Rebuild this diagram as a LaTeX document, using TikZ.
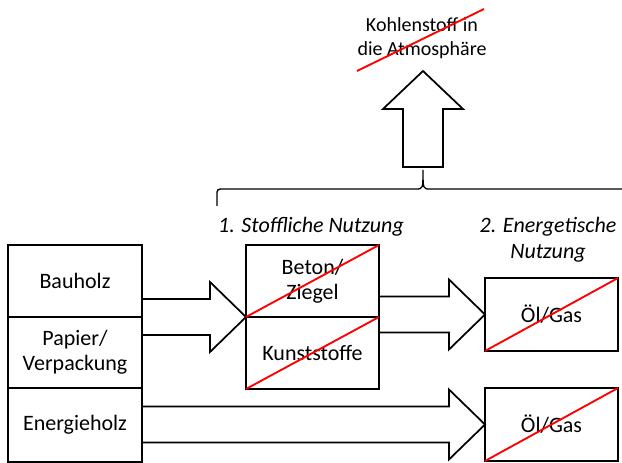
\documentclass[tikz,border=0pt]{standalone}
\usepackage{fontspec}
\setmainfont{Carlito}
\usetikzlibrary{calc,positioning}

\tikzset{
  box/.style={draw, line width=1.5pt, inner sep=0pt, outer sep=0pt, align=center,
    font=\fontsize{16.5}{18.75}\selectfont},
  arrowbody/.style={draw, line width=1.3pt, line join=miter},
  strike/.style={red, line width=1.4pt},
  headtext/.style={align=center, font=\fontsize{16.5}{19.5}\selectfont\itshape},
  bracestyle/.style={line width=1pt}
}

% horizontal block arrow: open at the start, tip at #2
\newcommand{\blockarrow}[2]{%
  \draw[arrowbody] let \p1=(#1), \p2=(#2) in
    (\x1,\y2+13.5pt) -- (\x2-27pt,\y2+13.5pt) -- (\x2-27pt,\y2+26.25pt) -- (\x2,\y2)
    -- (\x2-27pt,\y2-26.25pt) -- (\x2-27pt,\y2-13.5pt) -- (\x1,\y2-13.5pt);}

\begin{document}
\begin{tikzpicture}[x=0.75pt, y=-0.75pt]
	\useasboundingbox (0,0) rectangle (622,463);
	\clip (0,0) rectangle (622,463);
	
	%--- Holzsorten links ---
	\node[box, minimum width=100.5pt, minimum height=54pt] (bau) at (75,281) {Bauholz};
	\node[box, minimum width=100.5pt, minimum height=53.25pt, below=0pt of bau] (pap) {Papier/\\Verpackung};
	\node[box, minimum width=100.5pt, minimum height=55.5pt, below=0pt of pap] (ene) {Energieholz};
	
	%--- stoffliche Nutzung ---
	\node[box, minimum width=99.75pt, minimum height=54pt] (beton) at (312.5,281) {Beton/\\Ziegel};
	\node[box, minimum width=99.75pt, minimum height=54pt, below=0pt of beton] (kunst) {Kunststoffe};
	
	%--- energetische Nutzung ---
	\node[box, minimum width=99.75pt, minimum height=54.75pt] (oel1) at (551.5,314.5) {Öl/Gas};
	\node[box, minimum width=99.75pt, minimum height=54.75pt] (oel2) at (551.5,424.5) {Öl/Gas};
	
	% Ueberschriften
	\node[headtext] (nutz1) at (311,227) {1. Stoffliche Nutzung};
	\node[headtext] (nutz2) at (548,240) {2. Energetische\\Nutzung};
	
	% Blockpfeile
	\blockarrow{bau.south east}{beton.south west}
	\blockarrow{beton.south east}{oel1.west}
	\blockarrow{ene.east}{oel2.west}
	
	% Klammer ueber beiden Nutzungen
	\coordinate (cusp) at (423,170);
	\draw[bracestyle] (217,206) -- (217,196) .. controls (217,189) .. (224,189)
		-- (416,189) .. controls (423,189) .. (cusp) .. controls (423,189) .. (430,189)
		-- (640,189);
	
	% Pfeil nach oben
	\draw[arrowbody] (403,167) -- (403,109) -- (383,109) -- (423,71)
		-- (463,109) -- (443,109) -- (443,167) -- cycle;
	\node[align=center, font=\fontsize{15}{18}\selectfont] (atmo) at (422,38) {Kohlenstoff in\\die Atmosphäre};
	
	% Durchstreichungen
	\draw[strike] (357,71) -- (484,9);
	\draw[strike] (beton.south west) -- (beton.north east);
	\draw[strike] (kunst.south west) -- (kunst.north east);
	\draw[strike] (oel1.south west) -- (oel1.north east);
	\draw[strike] (oel2.south west) -- (oel2.north east);
	
\end{tikzpicture}
\end{document}
